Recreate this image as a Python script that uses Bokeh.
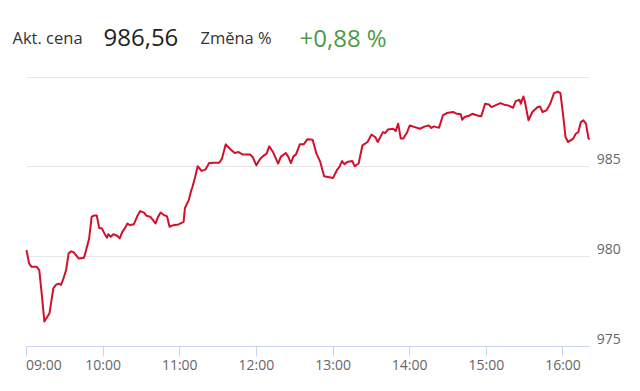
from bokeh.plotting import figure
from bokeh.models import (FixedTicker, Label, LabelSet, ColumnDataSource, Range1d, Grid)
from bokeh.core.properties import value
from bokeh.embed import file_html
from bokeh.resources import INLINE

# ---- data ----
times = ["09:00", "09:02", "09:04", "09:08", "09:10", "09:12", "09:14", "09:18", "09:21", "09:23",
         "09:25", "09:27", "09:29", "09:31", "09:33", "09:35", "09:37", "09:41", "09:45", "09:47",
         "09:49", "09:51", "09:53", "09:55", "09:57", "09:59", "10:01", "10:03", "10:04", "10:06",
         "10:08", "10:11", "10:13", "10:15", "10:17", "10:19", "10:21", "10:23", "10:24", "10:27",
         "10:29", "10:32", "10:34", "10:37", "10:39", "10:41", "10:43", "10:45", "10:47", "10:50",
         "10:52", "10:55", "10:59", "11:03", "11:04", "11:07", "11:09", "11:10", "11:12", "11:14",
         "11:17", "11:20", "11:23", "11:28", "11:31", "11:33", "11:36", "11:40", "11:43", "11:46",
         "11:49", "11:51", "11:55", "11:57", "12:00", "12:03", "12:06", "12:08", "12:10", "12:13",
         "12:17", "12:19", "12:23", "12:25", "12:27", "12:29", "12:31", "12:34", "12:37", "12:40",
         "12:44", "12:47", "12:50", "12:53", "12:56", "13:00", "13:03", "13:05", "13:07", "13:09",
         "13:11", "13:15", "13:17", "13:20", "13:23", "13:27", "13:30", "13:33", "13:35", "13:39",
         "13:41", "13:43", "13:47", "13:49", "13:51", "13:53", "13:55", "13:58", "14:00", "14:04",
         "14:08", "14:12", "14:15", "14:17", "14:19", "14:21", "14:23", "14:26", "14:29", "14:34",
         "14:37", "14:40", "14:41", "14:43", "14:47", "14:49", "14:53", "14:56", "14:59", "15:02",
         "15:04", "15:07", "15:11", "15:14", "15:17", "15:21", "15:23", "15:26", "15:27", "15:29",
         "15:30", "15:33", "15:36", "15:40", "15:42", "15:44", "15:47", "15:50", "15:53", "15:56",
         "15:58", "16:00", "16:02", "16:04", "16:06", "16:08", "16:10", "16:12", "16:14", "16:16",
         "16:18", "16:20", "16:21"]
prices = [980.37, 979.63, 979.44, 979.44, 979.26, 977.87, 976.39, 976.85, 978.24, 978.43,
          978.50, 978.43, 978.80, 979.26, 980.19, 980.30, 980.24, 979.90, 979.94, 980.46,
          981.00, 982.22, 982.30, 982.30, 981.58, 981.58, 981.30, 981.06, 981.25, 981.11,
          981.25, 981.17, 981.02, 981.39, 981.58, 981.85, 981.76, 981.80, 981.80, 982.30,
          982.54, 982.46, 982.28, 982.22, 982.04, 981.85, 982.22, 982.46, 982.35, 982.25,
          981.67, 981.76, 981.80, 981.94, 982.70, 983.15, 983.70, 983.90, 984.44, 985.04,
          984.78, 984.85, 985.22, 985.24, 985.24, 985.46, 986.26, 985.96, 985.78, 985.83,
          985.70, 985.70, 985.70, 985.56, 985.09, 985.46, 985.65, 985.74, 986.15, 985.83,
          985.19, 985.56, 985.78, 985.56, 985.22, 985.59, 985.70, 986.26, 986.26, 986.55,
          986.52, 985.74, 985.28, 984.48, 984.44, 984.39, 984.82, 985.00, 985.33, 985.15,
          985.28, 985.33, 985.04, 985.19, 986.20, 986.39, 986.80, 986.67, 986.39, 986.94,
          986.89, 987.09, 987.13, 987.00, 987.41, 986.58, 986.58, 986.94, 987.31, 987.22,
          987.13, 987.26, 987.31, 987.17, 987.26, 987.22, 987.19, 987.87, 988.00, 988.06,
          987.96, 987.93, 987.63, 987.78, 987.87, 987.96, 987.87, 987.82, 988.52, 988.48,
          988.33, 988.43, 988.56, 988.47, 988.43, 988.30, 988.67, 988.74, 988.52, 988.93,
          988.70, 987.60, 988.06, 988.33, 988.37, 988.06, 988.15, 988.52, 989.11, 989.20,
          989.11, 987.96, 986.67, 986.39, 986.48, 986.58, 986.85, 986.94, 987.50, 987.60,
          987.41, 986.58, 986.56]

hour_labels = ["09:00", "10:00", "11:00", "12:00", "13:00", "14:00", "15:00", "16:00"]
y_ticks = [975, 980, 985, 990]
y_tick_labels = ["975", "980", "985"]
session_start = "09:00"
session_end = "16:21"
header_texts = ["Akt. cena", "986,56", "Změna %", "+0,88 %"]

# ---- layout / style ----
FONT = "Open Sans"
GRID = "#e6e6e6"
AXIS = "#ccd6eb"
LABEL = "#666666"
W, H = 640, 391
BOTTOM = 45                       # x-axis panel height
FRAME_H = H - BOTTOM              # frame covers header, plot and right labels
PLOT_L, PLOT_R, PLOT_T = 26.0, 589.3, 76.7   # pixel box of the price area


def to_min(s):
    h0, m0 = session_start.split(":")
    h, m = s.split(":")
    return (int(h) - int(h0)) * 60 + int(m) - int(m0)


xs = [to_min(t) for t in times]
hour_pos = [to_min(t) for t in hour_labels]
x_end = to_min(session_end)
y_lo, y_hi = min(y_ticks), max(y_ticks)

kx = (PLOT_R - PLOT_L) / x_end
ky = (FRAME_H - PLOT_T) / (y_hi - y_lo)
x_range = Range1d(-PLOT_L / kx, x_end + (W - PLOT_R) / kx)
y_range = Range1d(y_lo, y_hi + PLOT_T / ky)

p = figure(width=W, height=H, output_backend="svg", toolbar_location=None,
           x_range=x_range, y_range=y_range, y_axis_location=None,
           min_border_left=0, min_border_right=0, min_border_top=0, min_border_bottom=BOTTOM)
p.outline_line_color = None
p.background_fill_color = "white"
p.border_fill_color = "white"
p.xgrid.visible = False

# horizontal grid lines limited to the price area
if "cross_bounds" in Grid.properties():
    p.ygrid.ticker = FixedTicker(ticks=y_ticks)
    p.ygrid.cross_bounds = (0, x_end)
    p.ygrid.grid_line_color = GRID
    p.ygrid.grid_line_width = 1
else:
    p.ygrid.visible = False
    gl = [v for v in y_ticks if v != y_lo]
    p.segment(x0=[0] * len(gl), x1=[x_end] * len(gl), y0=gl, y1=gl, line_color=GRID, line_width=1)

# x axis
ax = p.xaxis[0]
ax.bounds = (0, x_end)
ax.ticker = FixedTicker(ticks=hour_pos)
# first label sits to the right of its tick (padded with no-break spaces)
ax.major_label_overrides = {pos: (lab if i > 0 else "\u00a0" * 7 + lab)
                            for i, (pos, lab) in enumerate(zip(hour_pos, hour_labels))}
ax.axis_line_color = AXIS
ax.major_tick_line_color = AXIS
ax.major_tick_in = 0
ax.major_tick_out = 10
ax.minor_tick_line_color = None
ax.major_label_standoff = -2
ax.major_label_text_font = FONT
ax.major_label_text_font_size = "14px"
ax.major_label_text_color = LABEL

# price line
p.line(xs, prices, line_width=2, line_color="#d0112b", line_join="round")

# right value labels, just above their grid lines
ysrc = ColumnDataSource(dict(x=[x_end] * len(y_tick_labels), y=y_ticks[:len(y_tick_labels)], t=y_tick_labels))
p.add_layout(LabelSet(source=ysrc, x="x", y="y", text="t", x_offset=7, y_offset=3,
                      text_align="left", text_baseline="bottom",
                      text_font=value(FONT), text_font_size=value("14px"), text_color=LABEL))

# header
hdr_style = [(12, "16.5px", "#333333"), (103, "24px", "#222222"),
             (200, "16.5px", "#333333"), (299, "24px", "#4e9a45")]
BASELINE = 36.5
for txt, (hx, fs, col) in zip(header_texts, hdr_style):
    p.add_layout(Label(x=hx, y=FRAME_H - BASELINE, x_units="screen", y_units="screen", text=txt,
                       text_font=FONT, text_font_size=fs, text_color=col,
                       text_baseline="alphabetic", text_align="left"))

open("out.html", "w").write(file_html(p, INLINE))
